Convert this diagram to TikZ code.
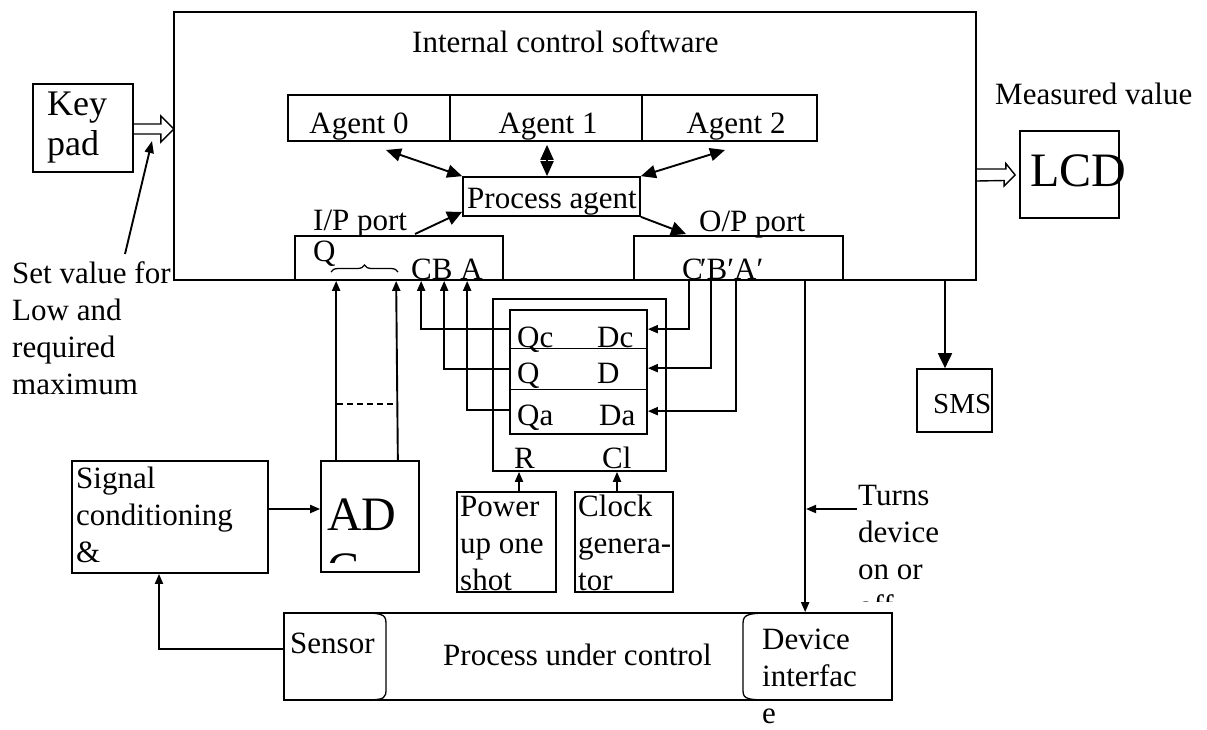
\documentclass[tikz,border=0pt]{standalone}
\usepackage{fontspec}
\setmainfont{Liberation Serif}
\usetikzlibrary{arrows.meta,calc,decorations.pathreplacing}

\newcommand\txtA{\fontsize{31}{37}\selectfont}
\newcommand\txtK{\fontsize{36}{40}\selectfont}
\newcommand\txtL{\fontsize{48}{55}\selectfont}
\newcommand\txtS{\fontsize{29}{35}\selectfont}

\begin{document}
\begin{tikzpicture}[x=1pt,y=-1pt,
  box/.style={draw, line width=1.7pt, inner sep=0pt},
  lbl/.style={inner sep=0pt, font=\txtA, align=left},
  wire/.style={line width=1.9pt},
  thin/.style={line width=1.3pt},
  tipS/.style={-{Triangle[length=10pt,width=8pt]}},
  tipM/.style={-{Triangle[length=12pt,width=9pt]}},
  tipB/.style={-{Triangle[length=15pt,width=14pt]}},
  dbl/.style={{Triangle[length=15pt,width=13pt]}-{Triangle[length=15pt,width=13pt]}},
  hollow/.style={line width=1.4pt, line join=miter}]

\useasboundingbox (0,0) rectangle (1207,729);

% ---------- controller software box ----------
\node[box, minimum width=802pt, minimum height=268pt] (main) at (575,146) {};
\node[lbl, anchor=base west] (title) at (412,52) {Internal control software};

% agents
\node[box, minimum width=162pt, minimum height=46pt] (a0) at (369,118) {};
\node[box, minimum width=192pt, minimum height=46pt] (a1) at (546,118) {};
\node[box, minimum width=175pt, minimum height=46pt] (a2) at (729.5,118) {};
\node[lbl, anchor=base] (a0t) at (359,133) {Agent 0};
\node[lbl, anchor=base] (a1t) at (548,133) {Agent 1};
\node[lbl, anchor=base] (a2t) at (736,133) {Agent 2};

\node[box, minimum width=177pt, minimum height=39pt] (pa) at (551.5,196.5) {};
\node[lbl, anchor=base west] (pat) at (467,208) {Process agent};

% ports
\node[box, minimum width=208pt, minimum height=44pt] (ip) at (399,258) {};
\node[box, minimum width=209pt, minimum height=44pt] (op) at (738.5,258) {};
\node[lbl, anchor=base west] (ipt) at (313,230) {I/P port};
\node[lbl, anchor=base west] (opt) at (699,231) {O/P port};
\node[lbl, anchor=base west] (qt) at (313,261) {Q};
\node[lbl, anchor=base west] (cba) at (411,279) {CB A};
\node[lbl, anchor=base west] (cbap) at (682,279) {C\kern-3pt′B′A′};
\draw[thin, decorate, decoration={brace, amplitude=7pt}]
  (331,272) -- (398,272);

% ---------- keypad / LCD / SMS ----------
\node[box, minimum width=100pt, minimum height=88pt] (key) at (83,128) {};
\node[lbl, font=\txtK, anchor=base west] (keyt) at (47,155) {Key\\pad};

\node[box, minimum width=99pt, minimum height=87pt] (lcd) at (1069.5,174.5) {};
\node[lbl, font=\txtL, anchor=base west] (lcdt) at (1030,186) {LCD};
\node[lbl, anchor=base west] (mv) at (995,104) {Measured value};

\node[box, minimum width=75pt, minimum height=63pt] (sms) at (954.5,400.5) {};
\node[lbl, font=\txtS, anchor=base west] (smst) at (933,413) {SMS};

\node[lbl, anchor=base west] (setv) at (12,394) {Set value for\\Low and\\required\\maximum};

% hollow arrows
\draw[hollow] ($(key.east)+(0,-4)$) -- ++(27,0) -- ++(0,-8) -- ($(key.east)+(40,1)$)
  -- ++(-13,13) -- ++(0,-8) -- ($(key.east)+(0,6)$);
\draw[hollow] ($(main.east |- lcd.west)+(0,-5.5)$) -- ++(29,0) -- ++(0,-5.5)
  -- ($(lcd.west)+(-4,0.5)$) -- ++(-11,11) -- ++(0,-5.5) -- ($(main.east |- lcd.west)+(0,6.5)$);

\coordinate (svA) at (125,254);
\coordinate (svB) at (152,141);
\draw[wire, tipM] (svA) -- (svB);

\draw[wire, tipB] (main.south -| 945,0) -- (sms.north -| 945,0);

% ---------- agent links ----------
\coordinate (a0p) at (386,150);
\coordinate (a2p) at (725,150);
\draw[wire, dbl] (a0p) -- (pa.north west);
\draw[wire, dbl] ($(a1.south)+(1,3)$) -- ($(pa.north)+(-4.5,0)$);
\draw[wire, dbl] (a2p) -- (pa.north east);
\coordinate (ipp) at (415,234);
\draw[wire, tipB] (ipp) -- ($(pa.south west)+(0,-5)$);
\coordinate (opp) at (686,234);
\draw[wire, tipB] (pa.south east) -- (opp);

% ---------- latch ----------
\node[box, minimum width=173pt, minimum height=172pt] (ffo) at (579.5,385) {};
\node[box, minimum width=137pt, minimum height=124pt] (ffi) at (578.5,372) {};
\draw[thin] ($(ffi.north west)+(0,39)$) -- ($(ffi.north east)+(-2,39)$);
\draw[thin] ($(ffi.north west)+(0,80)$) -- ($(ffi.north east)+(-2,80)$);
\node[lbl, anchor=base west] (qc) at (517,347) {Qc};
\node[lbl, anchor=base west] (qb) at (517,383) {Q};
\node[lbl, anchor=base west] (qa) at (517,425) {Qa};
\node[lbl, anchor=base west] (dc) at (597,347) {Dc};
\node[lbl, anchor=base west] (db) at (597,383) {D};
\node[lbl, anchor=base west] (da) at (599,425) {Da};
\node[lbl, anchor=base west] (rt) at (514,468) {R};
\node[lbl, anchor=base west] (clt) at (602,468) {Cl};

\draw[wire, tipS] ($(ffi.north west)+(0,20)$) -| ($(ip.south west)+(127,0)$);
\draw[wire, tipS] ($(ffi.north west)+(0,60)$) -| ($(ip.south west)+(150,0)$);
\draw[wire, tipS] ($(ffi.north west)+(0,101)$) -| ($(ip.south west)+(173,0)$);

\draw[wire, tipS] ($(op.south west)+(56,0)$) |- ($(ffi.north east)+(0,20)$);
\draw[wire, tipS] ($(op.south west)+(78,0)$) |- ($(ffi.north east)+(0,59)$);
\draw[wire, tipS] ($(op.south west)+(103,0)$) |- ($(ffi.north east)+(0,102)$);

% reset and clock sources
\node[box, minimum width=99pt, minimum height=100pt] (pw) at (506.5,542) {};
\node[box, minimum width=98pt, minimum height=100pt] (clk) at (624,542) {};
\node[lbl, anchor=base west] (pwt) at (460,590) {Power\\up one\\shot};
\node[lbl, anchor=base west] (clkt) at (578,590) {Clock\\genera-\\tor};
\draw[wire, tipS] ($(pw.north)+(12.5,0)$) -- ($(ffo.south -| pw.north)+(12.5,0)$);
\draw[wire, tipS] ($(clk.north)+(-7,0)$) -- ($(ffo.south -| clk.north)+(-7,0)$);

% ---------- converter ----------
\node[box, minimum width=98pt, minimum height=111pt] (ad) at (370,516.5) {};
\begin{scope}
  \clip (321,461) rectangle (419,562);
  \node[lbl, font=\txtL, anchor=base west] (adt) at (327,585) {AD\\C};
\end{scope}
\draw[wire, tipS] ($(ad.north west)+(16,0)$) -- ($(ip.south west)+(42,0)$);
\draw[wire, tipS] ($(ad.north east)+(-22,0)$) -- ($(ip.south west)+(102,0)$);
\draw[thin, dashed, dash pattern=on 6pt off 4pt] (337,404) -- (397,404);

\node[box, minimum width=196pt, minimum height=112pt] (sig) at (170,517) {};
\node[lbl, anchor=base west] (sigt) at (76,562) {Signal\\conditioning\\\&};
\draw[wire, tipS] ($(sig.east)+(0,-8)$) -- ($(ad.west)+(0,-7.5)$);

% ---------- plant ----------
\node[box, minimum width=608pt, minimum height=87pt] (pc) at (588,656.5) {};
\draw[thin] (364,613) .. controls (386,613) and (386,616) .. (386,626)
  -- (386,688) .. controls (386,698) and (386,700) .. (364,700);
\draw[thin] (770,613) .. controls (743,613) and (743,616) .. (743,626)
  -- (743,688) .. controls (743,698) and (743,700) .. (770,700);
\node[lbl, anchor=base west] (sent) at (290,653) {Sensor};
\node[lbl, anchor=base west] (pct) at (443,665) {Process under control};
\node[lbl, anchor=base west] (devt) at (762,723) {Device\\interfac\\e};

\draw[wire, tipS] ($(pc.west)+(0,-7.5)$) -| ($(sig.south)+(-11,0)$);
\draw[wire, tipS] ($(op.south west)+(172,0)$) -- ($(pc.north -| op.south west)+(172,0)$);

\coordinate (tn) at (857,509);
\draw[wire, tipS] (tn) -- (806,509);
\begin{scope}
  \clip (850,470) rectangle (980,601);
  \node[lbl, anchor=base west] (turns) at (858,616) {Turns\\device\\on or\\off};
\end{scope}

\end{tikzpicture}
\end{document}
